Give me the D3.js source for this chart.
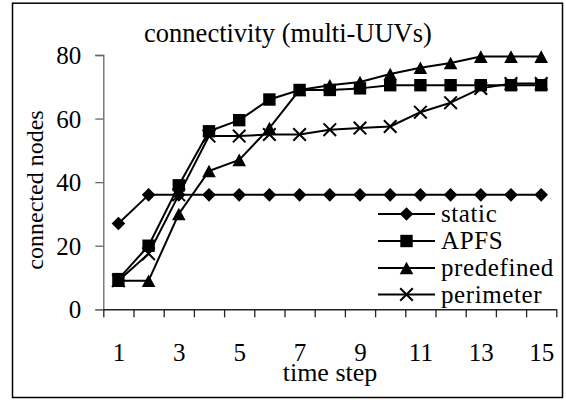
<!DOCTYPE html>
<html>
<head>
<meta charset="utf-8">
<script src="https://cdn.jsdelivr.net/npm/d3@7"></script>
<style>
  html, body { margin: 0; padding: 0; background: #fff; }
  svg { display: block; }
</style>
</head>
<body>
<svg id="chart" width="566" height="402"></svg>
<script>
// ---- data ----
const timeSteps = [1,2,3,4,5,6,7,8,9,10,11,12,13,14,15];
const xTickLabels = [1,3,5,7,9,11,13,15];
const yTicks = [0,20,40,60,80];
const seriesNames = ["static","APFS","predefined","perimeter"];
const staticVals     = [27,36,36,36,36,36,36,36,36,36,36,36,36,36,36];
const apfsVals       = [9.5,20,39,56,59.5,66,69,69,69.5,70.5,70.5,70.5,70.5,70.5,70.5];
const predefinedVals = [9,9,30,43.5,47,57,69,70.5,71.5,74,76,77.5,79.5,79.5,79.5];
const perimeterVals  = [9,17.5,36,54.5,54.5,55,55,56.5,57,57.5,62,65,69.5,71,71];
const titleText = "connectivity (multi-UUVs)";
const xLabel = "time step";
const yLabel = "connected nodes";

const seriesValues = [staticVals, apfsVals, predefinedVals, perimeterVals];
const FONT = '"Liberation Serif"';

// force the local serif face to load synchronously before drawing
(function () {
  const ctx = document.createElement("canvas").getContext("2d");
  [20, 24, 25, 26].forEach(s => { ctx.font = `${s}px "Liberation Serif"`; ctx.measureText("connectivity 0123456789"); });
})();

function draw() {
  const svg = d3.select("#chart");
  svg.selectAll("*").remove();
  const W = 566, H = 402;
  const plot = { left: 103.3, right: 556.3, top: 55, bottom: 309.3 };

  svg.append("rect").attr("x", 0).attr("y", 0).attr("width", W).attr("height", H).attr("fill", "#fff");
  svg.append("rect").attr("x", 12.5).attr("y", 3.2).attr("width", 550).attr("height", 394.3)
    .attr("fill", "none").attr("stroke", "#000").attr("stroke-width", 1.5);

  const x = d3.scaleLinear().domain([0.5, 15.5]).range([plot.left, plot.right]);
  const y = d3.scaleLinear().domain([0, 80]).range([plot.bottom, plot.top]);

  // y axis
  const yAxis = d3.axisLeft(y).tickValues(yTicks).tickSize(8).tickPadding(14).tickFormat(d3.format("d"));
  const gy = svg.append("g").attr("transform", `translate(${plot.left},0)`).call(yAxis)
    .attr("font-family", null).attr("font-size", null);
  gy.select(".domain").attr("stroke", "#666").attr("stroke-width", 1.3);
  gy.selectAll(".tick line").attr("stroke", "#666").attr("stroke-width", 1.3);
  gy.selectAll(".tick text").style("font-family", FONT).style("font-size", "25px").attr("dy", "0.34em").attr("fill", "#000");

  // x axis: tick marks at category boundaries
  const boundaries = d3.range(0.5, 15.51, 1);
  const xAxis = d3.axisBottom(x).tickValues(boundaries).tickSize(8).tickSizeOuter(0).tickFormat("");
  const gx = svg.append("g").attr("transform", `translate(0,${plot.bottom})`).call(xAxis);
  gx.select(".domain").attr("stroke", "#222").attr("stroke-width", 1.5);
  gx.selectAll(".tick line").attr("stroke", "#222").attr("stroke-width", 1.3);

  // x tick labels at category centres
  const xLab = d3.axisBottom(x).tickValues(xTickLabels).tickSize(0).tickPadding(34).tickFormat(d3.format("d"));
  const gxl = svg.append("g").attr("transform", `translate(0,${plot.bottom})`).call(xLab)
    .attr("font-family", null).attr("font-size", null);
  gxl.select(".domain").remove();
  gxl.selectAll(".tick text").style("font-family", FONT).style("font-size", "25px").attr("fill", "#000");

  // titles
  svg.append("text").attr("x", 288).attr("y", 42).attr("text-anchor", "middle")
    .style("font-family", FONT).style("font-size", "26.5px").text(titleText);
  svg.append("text").attr("x", 330).attr("y", 381).attr("text-anchor", "middle")
    .style("font-family", FONT).style("font-size", "26px").text(xLabel);
  svg.append("text").attr("transform", "translate(43,190) rotate(-90)").attr("text-anchor", "middle")
    .style("font-family", FONT).style("font-size", "24px").text(yLabel);

  // ---- markers ----
  const diamondType = { draw(ctx) { const r = 6.8; ctx.moveTo(0,-r); ctx.lineTo(r,0); ctx.lineTo(0,r); ctx.lineTo(-r,0); ctx.closePath(); } };
  const squareType  = { draw(ctx) { const r = 6.2; ctx.rect(-r,-r,2*r,2*r); } };
  const triType     = { draw(ctx) { const w = 6.8, h = 6.3; ctx.moveTo(0,-h); ctx.lineTo(w,h); ctx.lineTo(-w,h); ctx.closePath(); } };
  const crossType   = { draw(ctx) { const r = 6.3; ctx.moveTo(-r,-r); ctx.lineTo(r,r); ctx.moveTo(r,-r); ctx.lineTo(-r,r); } };
  const markerTypes = [diamondType, squareType, triType, crossType];

  const line = d3.line().x((d, i) => x(timeSteps[i])).y(d => y(d));

  function drawMarker(g, type, isCross) {
    const p = d3.symbol().type(type)();
    if (isCross) g.append("path").attr("d", p).attr("fill", "none").attr("stroke", "#000").attr("stroke-width", 2);
    else g.append("path").attr("d", p).attr("fill", "#000").attr("stroke", "none");
  }

  // back to front: perimeter, predefined, APFS, static
  [3, 2, 1, 0].forEach(si => {
    const vals = seriesValues[si];
    svg.append("path").datum(vals).attr("d", line).attr("fill", "none")
      .attr("stroke", "#000").attr("stroke-width", 2).attr("stroke-linejoin", "round");
    vals.forEach((v, i) => {
      const g = svg.append("g").attr("transform", `translate(${x(timeSteps[i])},${y(v)})`);
      drawMarker(g, markerTypes[si], si === 3);
    });
  });

  // ---- legend ----
  const legendY = [214, 241, 268, 294.5];
  seriesNames.forEach((name, i) => {
    const ly = legendY[i];
    svg.append("line").attr("x1", 378).attr("x2", 435).attr("y1", ly).attr("y2", ly)
      .attr("stroke", "#000").attr("stroke-width", 2);
    const g = svg.append("g").attr("transform", `translate(406.5,${ly})`);
    drawMarker(g, markerTypes[i], i === 3);
    svg.append("text").attr("x", 441).attr("y", ly + 8)
      .style("font-family", FONT).style("font-size", "25px").style("letter-spacing", "0.6px").text(name);
  });
}

draw();
if (document.fonts && document.fonts.load) {
  document.fonts.load('25px "Liberation Serif"').then(draw).catch(() => {});
}
</script>
</body>
</html>
